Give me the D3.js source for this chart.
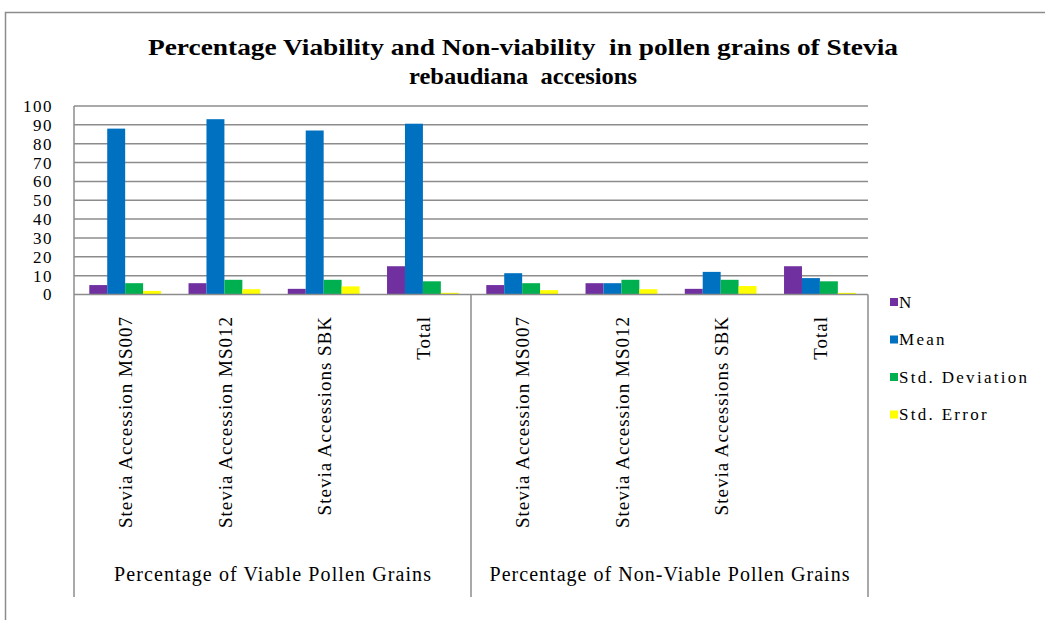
<!DOCTYPE html>
<html>
<head>
<meta charset="utf-8">
<script src="https://cdn.jsdelivr.net/npm/d3@7"></script>
<style>
  html, body { margin: 0; padding: 0; background: #fff; }
  svg { display: block; }
  text { font-family: "Liberation Serif", "Times New Roman", serif; fill: #000; }
</style>
</head>
<body>
<svg id="chart" width="1045" height="620"></svg>
<script>
// Pollen grain viability statistics for three Stevia rebaudiana accessions
const groups = ["Percentage of Viable Pollen Grains", "Percentage of Non-Viable Pollen Grains"];
const accessions = ["Stevia Accession MS007", "Stevia Accession MS012", "Stevia Accessions SBK", "Total"];
const seriesNames = ["N", "Mean", "Std. Deviation", "Std. Error"];
const seriesColors = ["#7030A0", "#0070C0", "#00B050", "#FFFF00"];

// one value per accession, viable block first then non-viable block
const nValues    = [5, 6, 3, 15, 5, 6, 3, 15];
const meanValues = [88.0, 93.0, 87.0, 90.6, 11.3, 6.0, 12.0, 8.7];
const sdValues   = [6.0, 7.8, 7.8, 7.0, 6.0, 7.8, 7.8, 7.0];
const seValues   = [1.9, 2.8, 4.3, 0.9, 2.3, 2.8, 4.5, 0.9];

const yTicks = [0, 10, 20, 30, 40, 50, 60, 70, 80, 90, 100];
const titleLines = ["Percentage Viability and Non-viability  in pollen grains of Stevia", "rebaudiana  accesions"];

// build rows for the grouped bars
const seriesValues = [nValues, meanValues, sdValues, seValues];
const rows = [];
groups.forEach((g, gi) => {
  accessions.forEach((a, ai) => {
    const idx = gi * accessions.length + ai;
    rows.push({
      key: g + "|" + a, group: g, accession: a,
      values: seriesNames.map((s, si) => ({ series: s, value: seriesValues[si][idx] }))
    });
  });
});

const svg = d3.select("#chart");
const gridColor = "#8c8c8c";

// outer chart frame
svg.append("path")
  .attr("d", "M5.5,620 L5.5,12.5 L1045,12.5")
  .attr("fill", "none").attr("stroke", gridColor).attr("stroke-width", 1.5);

// title, drawn condensed to fit its line width
const titleWidths = [750, 228];
titleLines.forEach((t, i) => {
  svg.append("text")
    .attr("x", 523).attr("y", 55 + i * 29)
    .attr("text-anchor", "middle")
    .attr("font-size", 23).attr("font-weight", "bold")
    .attr("textLength", titleWidths[i]).attr("lengthAdjust", "spacingAndGlyphs")
    .style("white-space", "pre")
    .text(t);
});

const plot = { left: 74, right: 868, top: 106, zero: 294.5, bottom: 597 };

const x0 = d3.scaleBand().domain(rows.map(d => d.key)).range([plot.left, plot.right]).padding(0);
const bw = x0.bandwidth();
const x1 = d3.scaleBand().domain(seriesNames).range([bw * 0.154, bw * 0.877]).padding(0);
const y = d3.scaleLinear().domain([0, 100]).range([plot.zero, plot.top]);
const color = d3.scaleOrdinal().domain(seriesNames).range(seriesColors);

// horizontal gridlines
svg.append("g")
  .selectAll("line").data(yTicks.filter(v => v > 0)).join("line")
  .attr("x1", plot.left).attr("x2", plot.right)
  .attr("y1", d => y(d)).attr("y2", d => y(d))
  .attr("stroke", gridColor).attr("stroke-width", 1.5);

// y axis labels
const yAxis = d3.axisLeft(y).tickValues(yTicks).tickSize(0).tickPadding(0);
const yg = svg.append("g").attr("transform", `translate(53,0)`).call(yAxis);
yg.select(".domain").remove();
yg.selectAll("text")
  .attr("font-family", "Liberation Serif, serif")
  .attr("font-size", 17).attr("letter-spacing", 1.5)
  .attr("fill", "#000");

// bars
const bars = svg.append("g").selectAll("g").data(rows).join("g")
  .attr("transform", d => `translate(${x0(d.key)},0)`);
bars.selectAll("rect").data(d => d.values).join("rect")
  .attr("x", d => x1(d.series))
  .attr("width", x1.bandwidth())
  .attr("y", d => y(d.value))
  .attr("height", d => y(0) - y(d.value))
  .attr("fill", d => color(d.series));

// zero line and category box
svg.append("line")
  .attr("x1", plot.left).attr("x2", plot.right)
  .attr("y1", y(0)).attr("y2", y(0))
  .attr("stroke", gridColor).attr("stroke-width", 1.5);
const mid = x0(rows[accessions.length].key);
[[plot.left, plot.top], [mid, plot.zero], [plot.right, plot.zero]].forEach(([xv, yTop]) => {
  svg.append("line")
    .attr("x1", xv).attr("x2", xv)
    .attr("y1", yTop).attr("y2", plot.bottom)
    .attr("stroke", gridColor).attr("stroke-width", 1.5);
});

// rotated accession labels
svg.append("g").selectAll("text").data(rows).join("text")
  .attr("transform", d => `translate(${x0(d.key) + bw / 2 + 2},316) rotate(-90)`)
  .attr("text-anchor", "end")
  .attr("dy", "0.35em")
  .attr("font-size", 19).attr("letter-spacing", 1)
  .text(d => d.accession);

// group labels
const groupWidths = [317, 360];
groups.forEach((g, gi) => {
  const gx0 = gi === 0 ? plot.left : mid;
  const gx1 = gi === 0 ? mid : plot.right;
  svg.append("text")
    .attr("x", (gx0 + gx1) / 2).attr("y", 574)
    .attr("dy", "0.35em")
    .attr("text-anchor", "middle")
    .attr("font-size", 20)
    .attr("textLength", groupWidths[gi]).attr("lengthAdjust", "spacing")
    .text(g);
});

// legend
const legend = svg.append("g").selectAll("g").data(seriesNames).join("g")
  .attr("transform", (d, i) => `translate(890,${302 + i * 37.5})`);
legend.append("rect")
  .attr("x", 0).attr("y", -4).attr("width", 8).attr("height", 8)
  .attr("fill", d => color(d));
legend.append("text")
  .attr("x", 9).attr("dy", "0.35em")
  .attr("font-size", 17).attr("letter-spacing", 2.3)
  .text(d => d);
</script>
</body>
</html>
